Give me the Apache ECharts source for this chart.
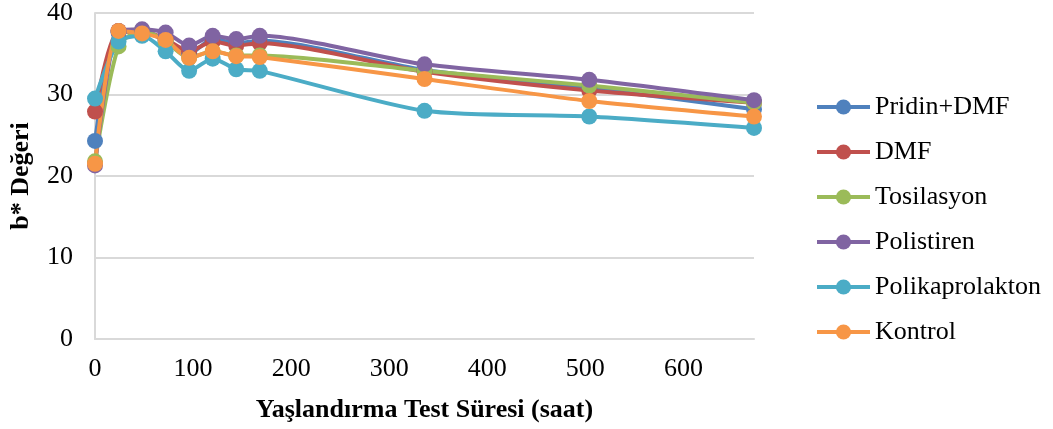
<!DOCTYPE html>
<html><head><meta charset="utf-8">
<script src="https://cdn.jsdelivr.net/npm/echarts@6/dist/echarts.min.js"></script>
<style>html,body{margin:0;padding:0;background:#fff}#c{width:1053px;height:429px}</style>
</head><body><div id="c"></div>
<script>
const hours = [0, 24, 48, 72, 96, 120, 144, 168, 336, 504, 672];
const seriesNames = ["Pridin+DMF", "DMF", "Tosilasyon", "Polistiren", "Polikaprolakton", "Kontrol"];
const pridinDMF      = [24.3, 37.6, 37.7, 36.6, 35.0, 36.8, 36.3, 36.6, 33.0, 30.8, 28.2];
const dmf            = [27.9, 37.8, 37.8, 36.8, 35.3, 36.5, 36.0, 36.3, 32.8, 30.5, 29.0];
const tosilasyon     = [21.8, 35.9, 37.9, 36.5, 34.5, 35.3, 34.8, 34.8, 32.9, 31.1, 29.0];
const polistiren     = [21.3, 37.8, 38.0, 37.6, 36.0, 37.2, 36.8, 37.2, 33.7, 31.8, 29.3];
const polikaprolakton= [29.5, 36.5, 37.2, 35.3, 32.9, 34.4, 33.1, 32.9, 28.0, 27.3, 25.9];
const kontrol        = [21.5, 37.8, 37.5, 36.7, 34.5, 35.3, 34.7, 34.6, 31.9, 29.2, 27.3];
const yTicks = [0, 10, 20, 30, 40];
const xTicks = [0, 100, 200, 300, 400, 500, 600];

const allValues = [pridinDMF, dmf, tosilasyon, polistiren, polikaprolakton, kontrol];
const colors = ["#4F81BD", "#C0504D", "#9BBB59", "#8064A2", "#4BACC6", "#F79646"];
const font = "'Liberation Serif', 'Times New Roman', serif";
const fs = 26;

const chart = echarts.init(document.getElementById('c'), null, {renderer: 'canvas'});
chart.setOption({
  animation: false,
  color: colors,
  textStyle: {fontFamily: font},
  grid: {left: 94, right: 299, top: 12, bottom: 90, containLabel: false},
  legend: {
    orient: 'vertical', left: 810, top: 89,
    itemWidth: 53, itemHeight: 19, itemGap: 19,
    lineStyle: {width: 4},
    textStyle: {fontFamily: font, fontSize: fs, color: '#000', padding: [0,0,0,0], lineHeight: 26},
    data: seriesNames
  },
  xAxis: {
    type: 'value', min: 0, max: 672, interval: 100,
    name: 'Yaşlandırma Test Süresi (saat)', nameLocation: 'middle', nameGap: 58,
    nameTextStyle: {fontFamily: font, fontSize: fs, fontWeight: 'bold', color: '#000'},
    axisLine: {show: true, lineStyle: {color: '#D9D9D9', width: 2}},
    axisTick: {show: false},
    splitLine: {show: false},
    axisLabel: {
      fontFamily: font, fontSize: fs, color: '#000', margin: 17,
      formatter: v => xTicks.includes(v) ? String(v) : ''
    }
  },
  yAxis: {
    type: 'value', min: 0, max: 40, interval: 10,
    name: 'b* Değeri', nameLocation: 'middle', nameGap: 61, nameRotate: 90,
    nameTextStyle: {fontFamily: font, fontSize: fs, fontWeight: 'bold', color: '#000'},
    axisLine: {show: true, lineStyle: {color: '#D9D9D9', width: 2}},
    axisTick: {show: false},
    splitLine: {show: true, lineStyle: {color: '#D9D9D9', width: 2}},
    axisLabel: {
      fontFamily: font, fontSize: fs, color: '#000', margin: 22,
      formatter: v => yTicks.includes(v) ? String(v) : ''
    }
  },
  series: seriesNames.map((n, i) => ({
    name: n, type: 'line', smooth: 0.25,
    symbol: 'circle', symbolSize: 16,
    lineStyle: {width: 4, color: colors[i]},
    itemStyle: {color: colors[i]},
    data: hours.map((h, j) => [h, allValues[i][j]])
  }))
});
</script></body></html>
